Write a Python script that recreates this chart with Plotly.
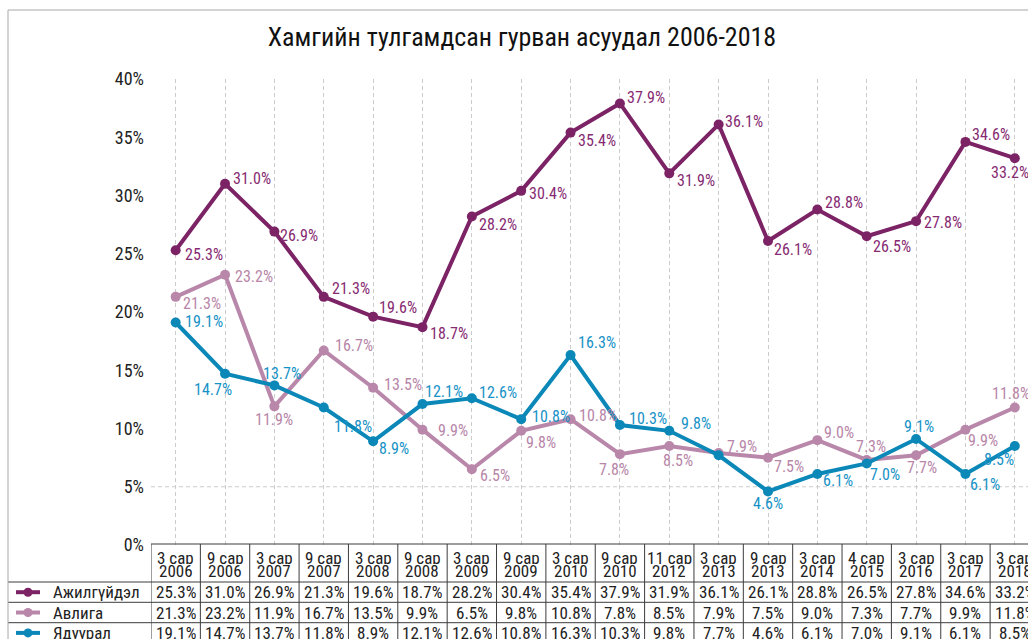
import plotly.graph_objects as go

# ---------------- data ----------------
months = ["3 сар", "9 сар", "3 сар", "9 сар", "3 сар", "9 сар", "3 сар", "9 сар", "3 сар",
          "9 сар", "11 сар", "3 сар", "9 сар", "3 сар", "4 сар", "3 сар", "3 сар", "3 сар"]
years = ["2006", "2006", "2007", "2007", "2008", "2008", "2009", "2009", "2010",
         "2010", "2012", "2013", "2013", "2014", "2015", "2016", "2017", "2018"]
categories = [f"{m} {y}" for m, y in zip(months, years)]

series_names = ["Ажилгүйдэл", "Авлига", "Ядуурал"]
unemployment = [25.3, 31.0, 26.9, 21.3, 19.6, 18.7, 28.2, 30.4, 35.4, 37.9, 31.9, 36.1, 26.1, 28.8, 26.5, 27.8, 34.6, 33.2]
corruption = [21.3, 23.2, 11.9, 16.7, 13.5, 9.9, 6.5, 9.8, 10.8, 7.8, 8.5, 7.9, 7.5, 9.0, 7.3, 7.7, 9.9, 11.8]
poverty = [19.1, 14.7, 13.7, 11.8, 8.9, 12.1, 12.6, 10.8, 16.3, 10.3, 9.8, 7.7, 4.6, 6.1, 7.0, 9.1, 6.1, 8.5]
y_ticks = [0, 5, 10, 15, 20, 25, 30, 35, 40]
y_tick_text = [f"{v}%" for v in y_ticks]

# ---------------- styles ----------------
colors = {"Ажилгүйдэл": "#7C2366", "Авлига": "#B987AA", "Ядуурал": "#0B88B8"}
label_colors = {"Ажилгүйдэл": "#862B72", "Авлига": "#B786A8", "Ядуурал": "#1792C6"}
# label placement per point: (anchor, dx px, dy px down); None = no label
label_style = {
    "Ажилгүйдэл": [("l", 7, 4), ("l", 6, -5), ("l", 4, 4), ("l", 6, -8), ("l", 4, -9), ("l", 6, 6),
                   ("l", 5, 8), ("l", 6, 3), ("l", 5, 8), ("l", 5, -6), ("l", 6, 7), ("l", 4, -3),
                   ("l", 4, 9), ("l", 6, -7), ("l", 4, 10), ("l", 6, 1), ("l", 5, -7), ("c", -5, 14)],
    "Авлига": [("l", 5, 7), ("l", 8, 2), ("c", 0, 13), ("l", 9, -5), ("l", 9, -3), ("l", 14, 1),
               ("l", 6, 6), ("l", 3, 12), ("l", 6, -4), ("c", -6, 15), ("c", 9, 15), ("l", 6, -6),
               ("l", 4, 9), ("l", 5, -8), ("c", 4, -13), ("c", 6, 12), ("l", 1, 11), ("c", -4, -14)],
    "Ядуурал": [("l", 7, -1), ("c", -12, 16), ("c", 8, -12), ("l", 8, 19), ("l", 4, 7), ("l", 1, -13),
                ("l", 5, -6), ("l", 9, -3), ("l", 5, -13), ("l", 7, -7), ("l", 10, -7), None,
                ("c", 0, 12), ("l", 4, 7), ("l", 1, 11), ("c", 3, -12), ("l", 3, 11), ("l", -33, 14)],
}
FONT = "Liberation Sans Narrow, Roboto Condensed, DejaVu Sans Condensed, Arial Narrow, sans-serif"
TEXT = "#222222"
BORDER = "#3c3c3c"

W, H = 1028, 639
L, R, T, B = 151, 1028, 79, 545
COL = 49.36


def xp(p):
    return (p - L) / (R - L)


def yp(p):
    return (B - p) / (B - T)


values = {"Ажилгүйдэл": unemployment, "Авлига": corruption, "Ядуурал": poverty}
n = len(categories)
xs = list(range(n))

fig = go.Figure()
for name in ["Авлига", "Ядуурал", "Ажилгүйдэл"]:
    fig.add_trace(go.Scatter(
        x=xs, y=values[name], name=name, mode="lines+markers",
        line=dict(color=colors[name], width=4),
        marker=dict(color=colors[name], size=10),
        customdata=categories, hovertemplate="%{customdata}: %{y:.1f}%<extra>" + name + "</extra>",
        showlegend=False, cliponaxis=False,
    ))

annotations = []
# data labels
for name in series_names:
    for i, v in enumerate(values[name]):
        st = label_style[name][i]
        if st is None:
            continue
        anc, dx, dy = st
        annotations.append(dict(
            x=i, y=v, xref="x", yref="y", text=f"{v:.1f}%", showarrow=False,
            xanchor="left" if anc == "l" else "center", yanchor="middle",
            xshift=dx, yshift=-dy,
            font=dict(family=FONT, size=16, color=label_colors[name]),
        ))

shapes = []
# 5% dashed gridline
shapes.append(dict(type="line", xref="paper", yref="y", x0=0, x1=1, y0=5, y1=5, layer="below",
                   line=dict(color="#cccccc", width=1, dash="4px,3px")))

# data table
row_top = [582, 602.3, 622.7]
row_h = 20.4
header_top = 544
bottom = 660
shapes.append(dict(type="line", xref="x", yref="paper", x0=-0.5, x1=n - 0.5,
                   y0=yp(header_top), y1=yp(header_top), line=dict(color=BORDER, width=1)))
for rt in row_top:
    shapes.append(dict(type="line", xref="paper", yref="paper", x0=xp(8), x1=1,
                       y0=yp(rt), y1=yp(rt), line=dict(color=BORDER, width=1)))
for i in range(n + 1):
    shapes.append(dict(type="line", xref="x", yref="paper", x0=i - 0.5, x1=i - 0.5,
                       y0=yp(header_top), y1=yp(bottom), line=dict(color=BORDER, width=1)))
for i in range(n):
    annotations.append(dict(x=i, y=yp(557), xref="x", yref="paper", text=months[i], showarrow=False,
                            xanchor="center", yanchor="middle", height=13, valign="middle",
                            font=dict(family=FONT, size=17, color=TEXT)))
    annotations.append(dict(x=i, y=yp(570), xref="x", yref="paper", text=years[i], showarrow=False,
                            xanchor="center", yanchor="middle", height=13, valign="middle",
                            font=dict(family=FONT, size=17, color=TEXT)))
for r, name in enumerate(series_names):
    cy = row_top[r] + row_h / 2
    for i, v in enumerate(values[name]):
        annotations.append(dict(x=i, y=yp(cy), xref="x", yref="paper", text=f"{v:.1f}%", showarrow=False,
                                xanchor="center", yanchor="middle", height=18, valign="middle",
                                font=dict(family=FONT, size=17, color=TEXT)))
    shapes.append(dict(type="line", xref="paper", yref="paper", x0=xp(16), x1=xp(40), y0=yp(cy), y1=yp(cy),
                       line=dict(color=colors[name], width=4)))
    shapes.append(dict(type="circle", xref="paper", yref="paper", x0=xp(23.5), x1=xp(32.5),
                       y0=yp(cy + 4.5), y1=yp(cy - 4.5), fillcolor=colors[name],
                       line=dict(color=colors[name], width=0)))
    annotations.append(dict(x=xp(51), y=yp(cy), xref="paper", yref="paper", text=name, showarrow=False,
                            xanchor="left", yanchor="middle", height=18, valign="middle",
                            font=dict(family=FONT, size=17, color=TEXT)))

# outer chart border
shapes.append(dict(type="line", xref="paper", yref="paper", x0=xp(8), x1=1, y0=yp(10), y1=yp(10),
                   line=dict(color="#a8a8a8", width=1)))
shapes.append(dict(type="line", xref="paper", yref="paper", x0=xp(8), x1=xp(8), y0=yp(10), y1=yp(660),
                   line=dict(color="#a8a8a8", width=1)))

fig.update_layout(
    width=W, height=H,
    margin=dict(l=L, r=W - R, t=T, b=H - B, autoexpand=False),
    paper_bgcolor="white", plot_bgcolor="white",
    title=dict(text="Хамгийн тулгамдсан гурван асуудал 2006-2018", x=522 / W, xref="container",
               xanchor="center", y=1 - 37 / H, yref="container", yanchor="middle",
               font=dict(family=FONT, size=26, color="#111111")),
    xaxis=dict(range=[-0.5, -0.5 + (R - L) / COL], tickvals=xs, showticklabels=False, ticks="",
               showgrid=True, gridcolor="#cccccc", gridwidth=1, griddash="4px,3px",
               zeroline=False, showline=False, fixedrange=True, automargin=False),
    yaxis=dict(range=[0, 40], tickmode="array", tickvals=y_ticks, ticktext=y_tick_text,
               showgrid=False, zeroline=False, automargin=False,
               showline=False, ticks="", ticklabelstandoff=6,
               tickfont=dict(family=FONT, size=18, color=TEXT), fixedrange=True),
    annotations=annotations, shapes=shapes,
    font=dict(family=FONT),
)

fig.write_html("out.html", config={"displayModeBar": False},
               post_script="document.body.style.margin='0';document.body.style.overflow='hidden';")
